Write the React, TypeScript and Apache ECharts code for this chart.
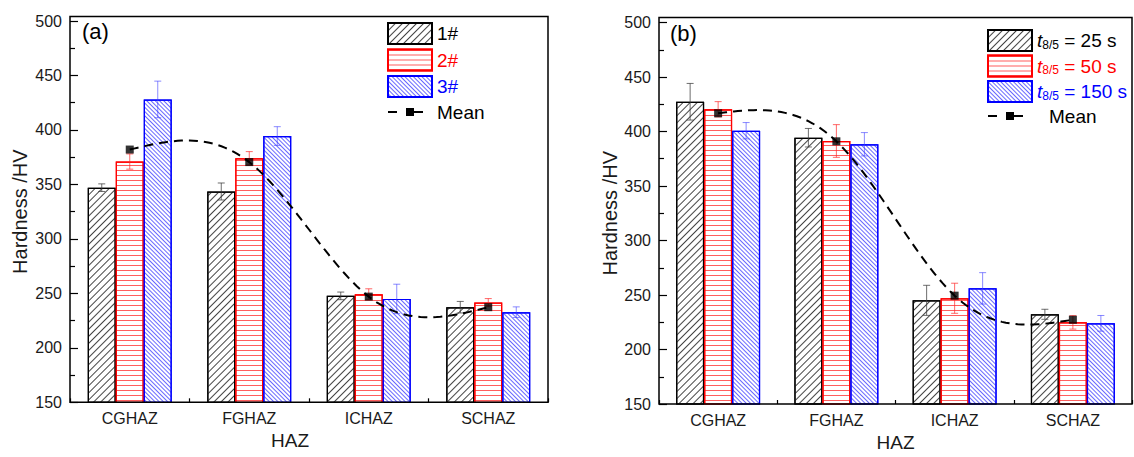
import React, { useEffect, useRef } from 'react';
import * as echarts from 'echarts';

// ---------- data ----------
const categories = ['CGHAZ', 'FGHAZ', 'ICHAZ', 'SCHAZ'];
const yMin = 150;
const yMax = 500;
const yStep = 50;

// Panel (a): samples 1#, 2#, 3#
const a1 = [347, 343.5, 247.7, 237.3];
const a1Err = [3.5, 7.8, 3.5, 5.3];
const a2 = [371, 374, 249.2, 241.5];
const a2Err = [7, 6.1, 5, 3.7];
const a3 = [428, 394.4, 244.9, 232.7];
const a3Err = [16.8, 8.6, 13.5, 4.9];
const aMean = [382, 370.5, 247, 237.3];
const aNames = ['1#', '2#', '3#'];

// Panel (b): t8/5 = 25 s, 50 s, 150 s
const b25 = [427.3, 394.3, 245.1, 232.3];
const b25Err = [16.8, 8.5, 13.8, 4.6];
const b50 = [420.4, 391.3, 247, 224.9];
const b50Err = [7, 15, 13.8, 6.2];
const b150 = [400.7, 388.3, 256.1, 224];
const b150Err = [7.5, 10.7, 14.4, 7.2];
const bMean = [416.7, 391, 249.4, 227.3];
const bTimes = ['25', '50', '150'];
const bNames = bTimes.map((t) => 't8/5 = ' + t + ' s');

// ---------- styles ----------
const FONT = '"Liberation Sans", Arial, Helvetica, sans-serif';
const BAR_W = 28;
const borderColors = ['#000000', '#ff0000', '#0000ff'];
const hatchColors = ['#444444', 'rgba(255,40,40,0.75)', 'rgba(40,40,255,0.7)'];
const errColors = ['rgba(60,60,60,0.75)', 'rgba(255,40,40,0.7)', 'rgba(60,60,255,0.6)'];
const decals = [
  { symbol: 'rect', symbolSize: 1, color: hatchColors[0], dashArrayX: [1, 0], dashArrayY: [1, 4], rotation: -Math.PI / 4 },
  { symbol: 'rect', symbolSize: 1, color: hatchColors[1], dashArrayX: [1, 0], dashArrayY: [1, 4], rotation: 0 },
  { symbol: 'rect', symbolSize: 1, color: hatchColors[2], dashArrayX: [1, 0], dashArrayY: [1, 2], rotation: Math.PI / 4 },
];
// legend icon for the mean curve: dash, square, dash inside a 44x21 box
const MEAN_ICON =
  'path://M0,0h0.01v0.01h-0.01z M44,21h-0.01v-0.01h0.01z M0,9.5h9v2h-9z M18,6.5h8v8h-8z M26,9.5h9v2h-9z';

function errRender(offset: number, color: string) {
  return (params: any, api: any) => {
    const i = api.value(0);
    const v = api.value(1);
    const e = api.value(2);
    const top = api.coord([i, v + e]);
    const bot = api.coord([i, v - e]);
    const x = top[0] + offset;
    const cw = 3.5;
    const st = { stroke: color, lineWidth: 1 };
    return {
      type: 'group',
      children: [
        { type: 'line', shape: { x1: x, y1: top[1], x2: x, y2: bot[1] }, style: st },
        { type: 'line', shape: { x1: x - cw, y1: top[1], x2: x + cw, y2: top[1] }, style: st },
        { type: 'line', shape: { x1: x - cw, y1: bot[1], x2: x + cw, y2: bot[1] }, style: st },
      ],
    };
  };
}

// natural cubic spline through the mean points, drawn in pixel space
function splineRender(means: number[]) {
  return (params: any, api: any) => {
    if (params.dataIndex !== 0) return null;
    const pts = means.map((v, i) => api.coord([i, v]));
    const n = pts.length;
    const y = pts.map((p: number[]) => p[1]);
    const m = n - 2;
    const b: number[] = [];
    const c: number[] = [];
    const d: number[] = [];
    for (let i = 1; i < n - 1; i++) {
      b.push(4);
      c.push(1);
      d.push(6 * (y[i - 1] - 2 * y[i] + y[i + 1]));
    }
    for (let i = 1; i < m; i++) {
      const w = 1 / b[i - 1];
      b[i] -= w * c[i - 1];
      d[i] -= w * d[i - 1];
    }
    const sol: number[] = new Array(m).fill(0);
    sol[m - 1] = d[m - 1] / b[m - 1];
    for (let i = m - 2; i >= 0; i--) sol[i] = (d[i] - c[i] * sol[i + 1]) / b[i];
    const M = [0, ...sol, 0];
    const out: number[][] = [];
    const steps = 30;
    for (let i = 0; i < n - 1; i++) {
      for (let k = 0; k <= steps; k++) {
        if (i > 0 && k === 0) continue;
        const t = k / steps;
        const u = 1 - t;
        const yy = u * y[i] + t * y[i + 1] + ((u * u * u - u) * M[i] + (t * t * t - t) * M[i + 1]) / 6;
        const xx = pts[i][0] + t * (pts[i + 1][0] - pts[i][0]);
        out.push([xx, yy]);
      }
    }
    return {
      type: 'polyline',
      shape: { points: out },
      style: { stroke: '#000', lineWidth: 2, lineDash: [9, 6], fill: null },
    };
  };
}

function panelSeries(idx: number, names: string[], vals: number[][], errs: number[][], means: number[]) {
  const s: any[] = [];
  names.forEach((nm, k) => {
    s.push({
      type: 'bar',
      name: nm,
      xAxisIndex: idx * 2,
      yAxisIndex: idx,
      data: vals[k],
      barWidth: BAR_W,
      barGap: '0%',
      itemStyle: { color: '#ffffff', borderColor: borderColors[k], borderWidth: 1.2, decal: decals[k] },
      emphasis: { disabled: true },
      z: 2,
    });
  });
  names.forEach((nm, k) => {
    s.push({
      type: 'custom',
      name: 'err' + idx + k,
      xAxisIndex: idx * 2,
      yAxisIndex: idx,
      data: vals[k].map((v, i) => [i, v, errs[k][i]]),
      encode: { x: 0, y: 1 },
      renderItem: errRender((k - 1) * BAR_W, errColors[k]),
      silent: true,
      z: 3,
    });
  });
  s.push({
    type: 'custom',
    name: 'curve' + idx,
    xAxisIndex: idx * 2,
    yAxisIndex: idx,
    data: means.map((v, i) => [i, v]),
    encode: { x: 0, y: 1 },
    renderItem: splineRender(means),
    silent: true,
    z: 4,
  });
  s.push({
    type: 'scatter',
    name: 'meanPts' + idx,
    xAxisIndex: idx * 2,
    yAxisIndex: idx,
    data: means,
    symbol: 'rect',
    symbolSize: 8,
    itemStyle: { color: '#000' },
    z: 5,
  });
  s.push({
    type: 'line',
    name: 'Mean',
    xAxisIndex: idx * 2,
    yAxisIndex: idx,
    data: [],
    symbol: 'rect',
    symbolSize: 8,
    itemStyle: { color: '#000' },
    lineStyle: { color: '#000', width: 2, type: [6, 5] },
  });
  return s;
}

const grids = [
  { left: 70, top: 21, width: 478, height: 381.3 },
  { left: 659, top: 22.5, width: 473, height: 381.5 },
];
const frames = [
  { x: 70, y: 16.5, width: 478, height: 385.8 },
  { x: 659, y: 17.5, width: 473, height: 386.5 },
];

function xAxes(idx: number, namePad: number[]) {
  return [
    {
      type: 'category',
      gridIndex: idx,
      data: categories,
      position: 'bottom',
      axisLine: { show: false },
      axisTick: { show: true, inside: true, alignWithLabel: true, length: 8, lineStyle: { color: '#000', width: 1.2 } },
      axisLabel: { fontSize: 16, fontFamily: FONT, color: '#1a1a1a', margin: 8 },
      name: 'HAZ',
      nameLocation: 'middle',
      nameGap: 29,
      nameTextStyle: { fontSize: 19, fontFamily: FONT, color: '#1a1a1a', padding: namePad },
      splitLine: { show: false },
    },
    {
      type: 'category',
      gridIndex: idx,
      data: categories,
      position: 'bottom',
      axisLine: { show: false },
      axisTick: { show: true, inside: true, length: 4, lineStyle: { color: '#000', width: 1.2 } },
      axisLabel: { show: false },
      splitLine: { show: false },
    },
  ];
}

function yAxis(idx: number, gap: number) {
  return {
    type: 'value',
    gridIndex: idx,
    min: yMin,
    max: yMax,
    interval: yStep,
    axisLine: { show: false },
    axisTick: { show: true, inside: true, length: 8, lineStyle: { color: '#000', width: 1.2 } },
    minorTick: { show: true, splitNumber: 2, length: 5, lineStyle: { color: '#000', width: 1.2 } },
    axisLabel: { fontSize: 16, fontFamily: FONT, color: '#1a1a1a', margin: 8 },
    splitLine: { show: false },
    name: 'Hardness /HV',
    nameLocation: 'middle',
    nameRotate: 90,
    nameGap: gap,
    nameTextStyle: { fontSize: 20, fontFamily: FONT, color: '#1a1a1a' },
  };
}

const richB: any = {};
borderColors.forEach((col, k) => {
  richB['t' + k] = { fontSize: 19, fontFamily: FONT, fontStyle: 'italic', color: col };
  richB['s' + k] = { fontSize: 12, fontFamily: FONT, color: col, verticalAlign: 'bottom', padding: [8, 0, 0, 0] };
  richB['n' + k] = { fontSize: 19, fontFamily: FONT, color: col };
});
richB.m = { fontSize: 19, fontFamily: FONT, color: '#000', padding: [0, 0, 0, 12] };

export default function App() {
  const ref = useRef<HTMLDivElement>(null);
  useEffect(() => {
    if (!ref.current) return;
    const chart = echarts.init(ref.current, undefined, { renderer: 'svg' });
    const option: any = {
      animation: false,
      backgroundColor: '#ffffff',
      grid: grids,
      xAxis: [...xAxes(0, [0, 38, 0, 0]), ...xAxes(1, [0, 0, 0, 0])],
      yAxis: [yAxis(0, 40), yAxis(1, 39)],
      legend: [
        {
          orient: 'vertical',
          left: 387,
          top: 22,
          padding: 0,
          itemWidth: 44,
          itemHeight: 21,
          itemGap: 3.5,
          selectedMode: false,
          textStyle: { fontSize: 19, fontFamily: FONT },
          data: [
            { name: aNames[0], icon: 'rect', textStyle: { color: borderColors[0] } },
            { name: aNames[1], icon: 'rect', textStyle: { color: borderColors[1] } },
            { name: aNames[2], icon: 'rect', textStyle: { color: borderColors[2] } },
            { name: 'Mean', icon: MEAN_ICON, textStyle: { color: '#000' } },
          ],
        },
        {
          orient: 'vertical',
          left: 987,
          top: 29,
          padding: 0,
          itemWidth: 44,
          itemHeight: 21,
          itemGap: 2.5,
          selectedMode: false,
          textStyle: { fontSize: 19, fontFamily: FONT, rich: richB },
          formatter: (name: string) => {
            const k = bNames.indexOf(name);
            if (k < 0) return '{m|' + name + '}';
            return '{t' + k + '|t}{s' + k + '|8/5}{n' + k + '| = ' + bTimes[k] + ' s}';
          },
          data: [
            ...bNames.map((nm) => ({ name: nm, icon: 'rect' })),
            { name: 'Mean', icon: MEAN_ICON },
          ],
        },
      ],
      series: [
        ...panelSeries(0, aNames, [a1, a2, a3], [a1Err, a2Err, a3Err], aMean),
        ...panelSeries(1, bNames, [b25, b50, b150], [b25Err, b50Err, b150Err], bMean),
      ],
      graphic: [
        ...frames.map((f) => ({
          type: 'rect',
          shape: f,
          style: { fill: 'none', stroke: '#000', lineWidth: 1.5 },
          silent: true,
          z: 10,
        })),
        { type: 'text', left: 82, top: 20, style: { text: '(a)', fontSize: 22, fontFamily: FONT, fill: '#000' } },
        { type: 'text', left: 670, top: 22, style: { text: '(b)', fontSize: 22, fontFamily: FONT, fill: '#000' } },
      ],
    };
    chart.setOption(option);
    return () => chart.dispose();
  }, []);
  return (
    <div
      ref={ref}
      style={{ position: 'fixed', left: 0, top: 0, width: 1134, height: 457, background: '#fff' }}
    />
  );
}
